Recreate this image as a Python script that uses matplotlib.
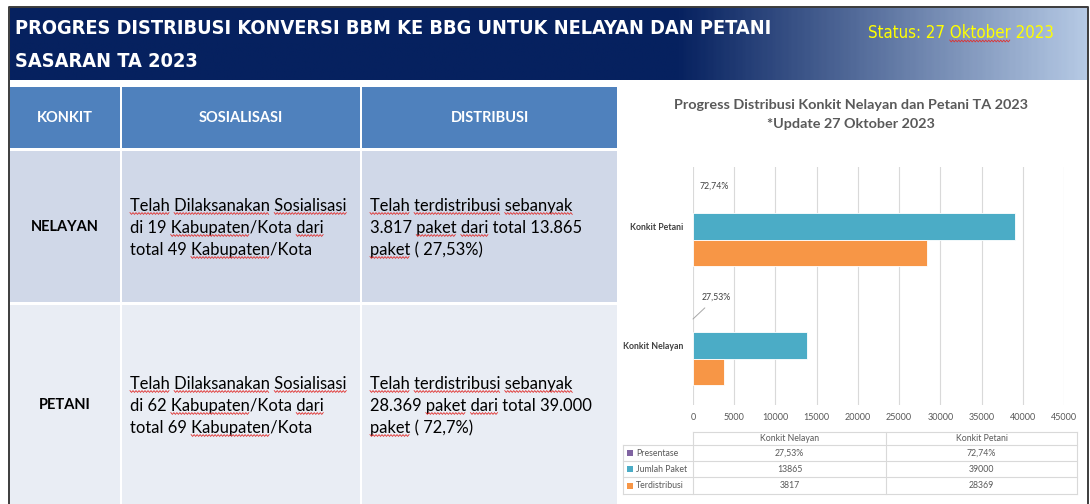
import numpy as np
import matplotlib
matplotlib.use("Agg")
import matplotlib.pyplot as plt
from matplotlib.patches import Rectangle
from matplotlib.font_manager import FontProperties, fontManager
from matplotlib.textpath import TextPath
from matplotlib.colors import LinearSegmentedColormap

W, H, DPI = 1090, 504, 100

# ---- data ----
categories = ["Konkit Nelayan", "Konkit Petani"]
presentase = [0.2753, 0.7274]
presentase_labels = ["27,53%", "72,74%"]
jumlah_paket = [13865, 39000]
terdistribusi = [3817, 28369]
x_ticks = [0, 5000, 10000, 15000, 20000, 25000, 30000, 35000, 40000, 45000]
series_names = ["Presentase", "Jumlah Paket", "Terdistribusi"]
table_values = [presentase_labels, [str(v) for v in jumlah_paket], [str(v) for v in terdistribusi]]

header_lines = ["PROGRES DISTRIBUSI KONVERSI BBM KE BBG UNTUK NELAYAN DAN PETANI", "SASARAN TA 2023"]
status_text = "Status: 27 Oktober 2023"
chart_title = ["Progress Distribusi Konkit Nelayan dan Petani TA 2023", "*Update 27 Oktober 2023"]
col_headers = ["KONKIT", "SOSIALISASI", "DISTRIBUSI"]
row_names = ["NELAYAN", "PETANI"]
sosialisasi_text = [
    ["Telah Dilaksanakan Sosialisasi", "di 19 Kabupaten/Kota dari", "total 49 Kabupaten/Kota"],
    ["Telah Dilaksanakan Sosialisasi", "di 62 Kabupaten/Kota dari", "total 69 Kabupaten/Kota"],
]
distribusi_text = [
    ["Telah terdistribusi sebanyak", "3.817 paket dari total 13.865", "paket ( 27,53%)"],
    ["Telah terdistribusi sebanyak", "28.369 paket dari total 39.000", "paket ( 72,7%)"],
]
# words PowerPoint flagged with the red spell-check squiggle
spell_words = ["Telah", "Dilaksanakan", "Sosialisasi", "Kabupaten", "dari",
               "terdistribusi", "sebanyak", "paket", "Oktober"]

NAVY = "#06215F"
C_PURPLE, C_TEAL, C_ORANGE = "#8064A2", "#4BACC6", "#F79646"

plt.rcParams["font.family"] = ["Lato", "DejaVu Sans"]

# narrow face for the banner, if one is installed
names = {f.name for f in fontManager.ttflist}
has_dv_cond = any(f.name == "DejaVu Sans" and f.stretch == "condensed" and f.weight in ("bold", 700)
                  for f in fontManager.ttflist)
if "Liberation Sans Narrow" in names:
    head_kw = dict(family=["Liberation Sans Narrow", "DejaVu Sans"])
elif has_dv_cond:
    head_kw = dict(family=["DejaVu Sans"], stretch="condensed")
else:
    head_kw = dict(family=["Roboto", "DejaVu Sans"])


def fit_size(s, fp, target_px):
    w = TextPath((0, 0), s, size=10, prop=fp).get_extents().width
    return 10 * target_px / (w * DPI / 72)


fig = plt.figure(figsize=(W / DPI, H / DPI), dpi=DPI)
bg = fig.add_axes([0, 0, 1, 1])
bg.set_xlim(0, W)
bg.set_ylim(H, 0)
bg.axis("off")
renderer = fig.canvas.get_renderer()


def text_w(s, fp):
    return renderer.get_text_width_height_descent(s, fp, ismath=False)[0]


def squiggle(x0, x1, y):
    xs = np.arange(x0, x1, 1.5)
    ys = y + 0.9 * np.where(np.arange(len(xs)) % 2 == 0, -1, 1)
    bg.plot(xs, ys, color="#E0302E", lw=0.6, zorder=5)


def line_with_spell(x, y, s, fp, color="black"):
    bg.text(x, y, s, fontproperties=fp, color=color, ha="left", va="baseline", zorder=4)
    pos = 0
    for word in s.split(" "):
        start = s.index(word, pos)
        pos = start + len(word)
        core = word.split("/")[0]
        if core in spell_words:
            end_px = text_w(s[:start + len(core)], fp)
            x0 = x + end_px - text_w(core, fp)
            squiggle(x0, x + end_px, y + 2.5)


# ---- banner with gradient ----
grad = LinearSegmentedColormap.from_list("g", [(0, NAVY), (0.62, NAVY), (1, "#B5C9E4")])
bg.imshow(np.linspace(0, 1, 400)[None, :], cmap=grad, aspect="auto",
          extent=(10, 1088, 80, 7), zorder=1)
hfp = FontProperties(weight="bold", **head_kw)
hfp.set_size(fit_size(header_lines[0], hfp, 755))
bg.text(15, 28.5, header_lines[0], fontproperties=hfp, color="white", va="center", ha="left", zorder=3)
bg.text(15, 61.5, header_lines[1], fontproperties=hfp, color="white", va="center", ha="left", zorder=3)
sfp = FontProperties(**head_kw)
sfp.set_size(fit_size(status_text, sfp, 184))
bg.text(868, 38, status_text, fontproperties=sfp, color="#FFFF00", va="baseline", ha="left", zorder=3)
okt_end = text_w("Status: 27 Oktober", sfp)
squiggle(868 + okt_end - text_w("Oktober", sfp), 868 + okt_end, 41)

# ---- left table ----
cols = [(10, 120), (122, 360), (362, 617)]
rows = [(87, 148), (151, 302), (305, 504)]
row_colors = ["#4F81BD", "#D0D8E8", "#E9EDF4"]
for (y0, y1), rc in zip(rows, row_colors):
    for x0, x1 in cols:
        bg.add_patch(Rectangle((x0, y0), x1 - x0, y1 - y0, facecolor=rc, edgecolor="none", zorder=1))

hcfp = FontProperties(family=["Lato", "DejaVu Sans"], weight="bold", size=10.5)
for (x0, x1), lab in zip(cols, col_headers):
    bg.text((x0 + x1) / 2, 118, lab, fontproperties=hcfp, color="white", ha="center", va="center", zorder=3)

body_fp = FontProperties(family=["Lato", "DejaVu Sans"])
body_fp.set_size(fit_size(sosialisasi_text[0][0], body_fp, 215))
row_base = [211, 389]
row_mid = [227, 405]
for i, name in enumerate(row_names):
    bg.text(65, row_mid[i], name, fontproperties=hcfp, color="black", ha="center", va="center", zorder=3)
    for j in range(3):
        y = row_base[i] + 22 * j
        line_with_spell(130, y, sosialisasi_text[i][j], body_fp)
        line_with_spell(370, y, distribusi_text[i][j], body_fp)

# ---- frame ----
bg.plot([9, 9, 1088, 1088], [504, 7, 7, 504], color="#3C3C3C", lw=1.4, zorder=6)

# ---- chart title ----
tfp = FontProperties(family=["Lato", "DejaVu Sans"], weight="bold")
tfp.set_size(fit_size(chart_title[0], tfp, 353))
bg.text(851, 105, chart_title[0], fontproperties=tfp, color="#595959", ha="center", va="center")
bg.text(851, 124, chart_title[1], fontproperties=tfp, color="#595959", ha="center", va="center")

# ---- bar chart ----
ax_l, ax_r, ax_t, ax_b = 693, 1064, 167, 405
ax = fig.add_axes([ax_l / W, (H - ax_b) / H, (ax_r - ax_l) / W, (ax_b - ax_t) / H])
ax.set_facecolor("none")
pos = np.arange(len(categories))
h = 0.2227
ax.barh(pos + h, presentase, height=h, color=C_PURPLE, zorder=3)
ax.barh(pos, jumlah_paket, height=h, color=C_TEAL, edgecolor="white", linewidth=0.6, zorder=3)
ax.barh(pos - h, terdistribusi, height=h, color=C_ORANGE, edgecolor="white", linewidth=0.6, zorder=3)
ax.set_xlim(0, 45000)
ax.set_ylim(-0.5, 1.5)
ax.set_xticks(x_ticks)
ax.set_xticklabels([str(t) for t in x_ticks])
ax.set_yticks(pos)
ax.set_yticklabels(categories, fontweight="bold")
ax.tick_params(axis="x", length=0, pad=6, labelsize=6.5, labelcolor="#595959")
ax.tick_params(axis="y", length=0, pad=7, labelsize=6.3, labelcolor="#404040")
ax.grid(axis="x", color="#D9D9D9", lw=0.8, zorder=0)
for sp in ax.spines.values():
    sp.set_visible(False)

# percentage data labels (Petani sits above its bar, Nelayan's was dragged off with a leader line)
ax.annotate(presentase_labels[1], xy=(presentase[1], 1 + h), xytext=(15, 10),
            textcoords="offset points", fontsize=6.3, color="#404040", ha="center", va="center")
ax.annotate(presentase_labels[0], xy=(presentase[0], h), xytext=(17, 16),
            textcoords="offset points", fontsize=6.3, color="#404040", ha="center", va="center",
            arrowprops=dict(arrowstyle="-", color="#A6A6A6", lw=0.7, shrinkA=4, shrinkB=0))

# ---- data table below chart ----
tx = [623, 693, 886, 1077]
ty = [432, 445, 461, 477, 494]
lc = "#D9D9D9"
bg.plot([693, 1077], [ty[0], ty[0]], color=lc, lw=0.8)
for y in ty[1:]:
    bg.plot([tx[0], tx[3]], [y, y], color=lc, lw=0.8)
bg.plot([tx[0], tx[0]], [ty[1], ty[4]], color=lc, lw=0.8)
for x in tx[1:]:
    bg.plot([x, x], [ty[0], ty[4]], color=lc, lw=0.8)
for k, cat in enumerate(categories):
    bg.text((tx[k + 1] + tx[k + 2]) / 2, (ty[0] + ty[1]) / 2, cat, fontsize=6.3, color="#595959",
            ha="center", va="center")
for r, (sname, scol) in enumerate(zip(series_names, [C_PURPLE, C_TEAL, C_ORANGE])):
    yc = (ty[r + 1] + ty[r + 2]) / 2
    bg.add_patch(Rectangle((627, yc - 3), 6, 6, facecolor=scol, edgecolor="none"))
    bg.text(636, yc, sname, fontsize=6.3, color="#595959", ha="left", va="center")
    for k in range(len(categories)):
        bg.text((tx[k + 1] + tx[k + 2]) / 2, yc, table_values[r][k], fontsize=6.3, color="#595959",
                ha="center", va="center")

fig.savefig("out.png", dpi=DPI)
